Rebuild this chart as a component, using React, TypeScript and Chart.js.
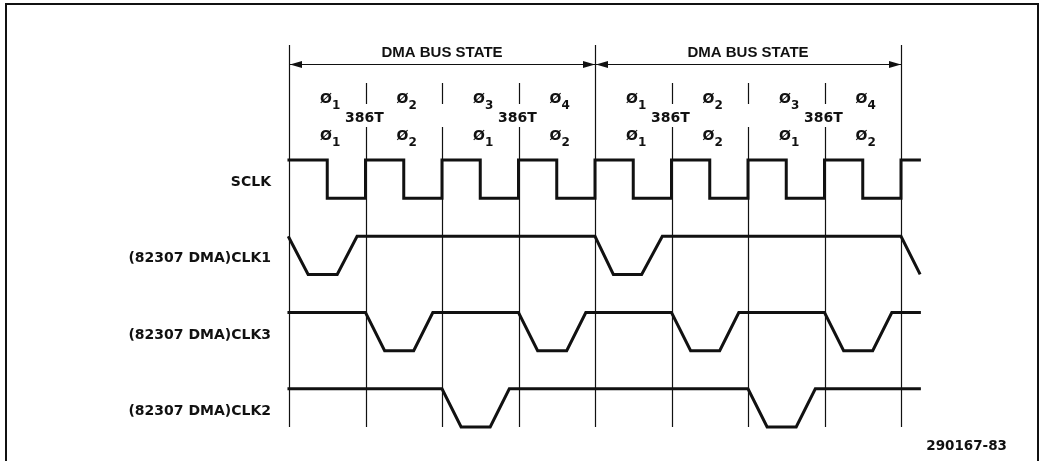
import React, { useEffect, useRef } from "react";
import { Chart, registerables } from "chart.js";

Chart.register(...registerables);

// ---- Data ----
// Phase boundaries (in 386T phase units)
const phaseBoundaries = [0, 1, 2, 3, 4, 5, 6, 7, 8];
// DMA bus state spans
const busStateLabels = ["DMA BUS STATE", "DMA BUS STATE"];
const busStateStart = [0, 4];
const busStateEnd = [4, 8];
// Phase labels (subscripts) for each phase
const phaseTopSub = ["1", "2", "3", "4", "1", "2", "3", "4"];
const phaseBottomSub = ["1", "2", "1", "2", "1", "2", "1", "2"];
// 386T label positions
const tStateLabel = "386T";
const tStateAt = [1, 3, 5, 7];

// Signal names (top to bottom)
const signalNames = ["SCLK", "(82307 DMA)CLK1", "(82307 DMA)CLK3", "(82307 DMA)CLK2"];
const signalLane = [6, 4, 2, 0];

// Waveforms: times (phase units) and logic levels
const sclkT = [-0.02, 0.5, 1, 1.5, 2, 2.5, 3, 3.5, 4, 4.5, 5, 5.5, 6, 6.5, 7, 7.5, 8, 8.26];
const sclkLevel = [1, 0, 1, 0, 1, 0, 1, 0, 1, 0, 1, 0, 1, 0, 1, 0, 1, 1];

const clk1T = [-0.01, 0.25, 0.63, 0.89, 4, 4.24, 4.61, 4.88, 8, 8.25];
const clk1Level = [1, 0, 0, 1, 1, 0, 0, 1, 1, 0];

const clk3T = [-0.02, 1, 1.25, 1.63, 1.88, 3, 3.25, 3.63, 3.88, 5, 5.25, 5.63, 5.88, 7, 7.25, 7.63, 7.88, 8.26];
const clk3Level = [1, 1, 0, 0, 1, 1, 0, 0, 1, 1, 0, 0, 1, 1, 0, 0, 1, 1];

const clk2T = [-0.02, 2, 2.25, 2.63, 2.88, 6, 6.25, 6.63, 6.88, 8.26];
const clk2Level = [1, 1, 0, 0, 1, 1, 0, 0, 1, 1];

const figureId = "290167-83";

const INK = "#111";

function toPoints(ts: number[], levels: number[], lane: number) {
  return ts.map((t, i) => ({ x: t, y: lane + levels[i] }));
}

const overlayPlugin = {
  id: "timingOverlay",
  beforeDatasetsDraw(chart: any) {
    const { ctx } = chart;
    const xs = chart.scales.x;
    const ys = chart.scales.y;
    ctx.save();
    ctx.strokeStyle = INK;
    ctx.fillStyle = INK;
    // frame
    ctx.lineWidth = 2;
    ctx.strokeRect(6, 4, 1032, 600);

    const bottom = ys.getPixelForValue(0);
    ctx.lineWidth = 1.2;
    phaseBoundaries.forEach((b) => {
      const px = Math.round(xs.getPixelForValue(b)) + 0.5;
      const outer = busStateStart.includes(b) || busStateEnd.includes(b);
      ctx.beginPath();
      if (outer) {
        ctx.moveTo(px, 45);
        ctx.lineTo(px, bottom);
      } else {
        ctx.moveTo(px, 83);
        ctx.lineTo(px, 104);
        ctx.moveTo(px, 127);
        ctx.lineTo(px, bottom);
      }
      ctx.stroke();
    });

    // bus state arrows
    const ay = 64.5;
    busStateStart.forEach((s, i) => {
      const x1 = Math.round(xs.getPixelForValue(s)) + 1;
      const x2 = Math.round(xs.getPixelForValue(busStateEnd[i]));
      ctx.beginPath();
      ctx.moveTo(x1, ay);
      ctx.lineTo(x2, ay);
      ctx.stroke();
      ctx.beginPath();
      ctx.moveTo(x1, ay);
      ctx.lineTo(x1 + 12, ay - 3.5);
      ctx.lineTo(x1 + 12, ay + 3.5);
      ctx.closePath();
      ctx.fill();
      ctx.beginPath();
      ctx.moveTo(x2, ay);
      ctx.lineTo(x2 - 12, ay - 3.5);
      ctx.lineTo(x2 - 12, ay + 3.5);
      ctx.closePath();
      ctx.fill();
    });
    ctx.restore();
  },
  afterDatasetsDraw(chart: any) {
    const { ctx } = chart;
    const xs = chart.scales.x;
    const ys = chart.scales.y;
    ctx.save();
    ctx.fillStyle = INK;
    ctx.textBaseline = "alphabetic";

    // bus state titles
    ctx.font = "bold 15px 'Liberation Sans'";
    ctx.textAlign = "center";
    busStateLabels.forEach((lab, i) => {
      const cx = (xs.getPixelForValue(busStateStart[i]) + xs.getPixelForValue(busStateEnd[i])) / 2;
      ctx.fillText(lab, cx, 57);
    });

    // phase labels
    const drawPhi = (x0: number, base: number, sub: string) => {
      ctx.textAlign = "left";
      ctx.font = "bold 14px 'DejaVu Sans'";
      ctx.fillText("\u00D8", x0, base);
      const w = ctx.measureText("\u00D8").width;
      ctx.font = "bold 12px 'DejaVu Sans'";
      ctx.fillText(sub, x0 + w, base + 6);
    };
    phaseTopSub.forEach((s, i) => {
      const x0 = xs.getPixelForValue(i) + 31;
      drawPhi(x0, 103, s);
      drawPhi(x0, 140, phaseBottomSub[i]);
    });

    // 386T labels
    ctx.font = "bold 14px 'DejaVu Sans'";
    ctx.textAlign = "center";
    tStateAt.forEach((b) => {
      ctx.fillText(tStateLabel, xs.getPixelForValue(b) - 1, 122);
    });

    // signal names
    ctx.textAlign = "right";
    ctx.font = "bold 14px 'DejaVu Sans'";
    signalNames.forEach((n, i) => {
      const yc = ys.getPixelForValue(signalLane[i] + 0.5);
      ctx.fillText(n, 271, yc + 7);
    });

    // figure id
    ctx.font = "bold 13.5px 'DejaVu Sans'";
    ctx.textAlign = "right";
    ctx.fillText(figureId, 1007, 450);
    ctx.restore();
  },
};

export default function App() {
  const ref = useRef<HTMLCanvasElement | null>(null);
  useEffect(() => {
    if (!ref.current) return;
    const W = 1045;
    const H = 461;
    const x0 = 289;
    const step = 76.5;
    const yTop = 160;
    const yBottom = 427;
    const unit = (yBottom - yTop) / 7;
    const common = {
      borderColor: INK,
      borderWidth: 3,
      pointRadius: 0,
      fill: false,
      tension: 0,
      borderJoinStyle: "miter" as const,
      borderCapStyle: "butt" as const,
      clip: false as any,
    };
    const chart = new Chart(ref.current, {
      type: "line",
      data: {
        datasets: [
          { ...common, label: signalNames[0], data: toPoints(sclkT, sclkLevel, signalLane[0]), stepped: "before" },
          { ...common, label: signalNames[1], data: toPoints(clk1T, clk1Level, signalLane[1]) },
          { ...common, label: signalNames[2], data: toPoints(clk3T, clk3Level, signalLane[2]) },
          { ...common, label: signalNames[3], data: toPoints(clk2T, clk2Level, signalLane[3]) },
        ] as any,
      },
      options: {
        responsive: false,
        animation: false,
        events: [],
        layout: { padding: 0 },
        plugins: { legend: { display: false }, tooltip: { enabled: false } },
        scales: {
          x: { type: "linear", display: false, min: -x0 / step, max: (W - x0) / step },
          y: { type: "linear", display: false, min: -(H - yBottom) / unit, max: 7 + yTop / unit },
        },
      },
      plugins: [overlayPlugin],
    });
    return () => chart.destroy();
  }, []);
  return (
    <div style={{ position: "absolute", left: 0, top: 0, width: 1045, height: 461, background: "#fff" }}>
      <canvas ref={ref} width={1045} height={461} style={{ display: "block" }} />
    </div>
  );
}
